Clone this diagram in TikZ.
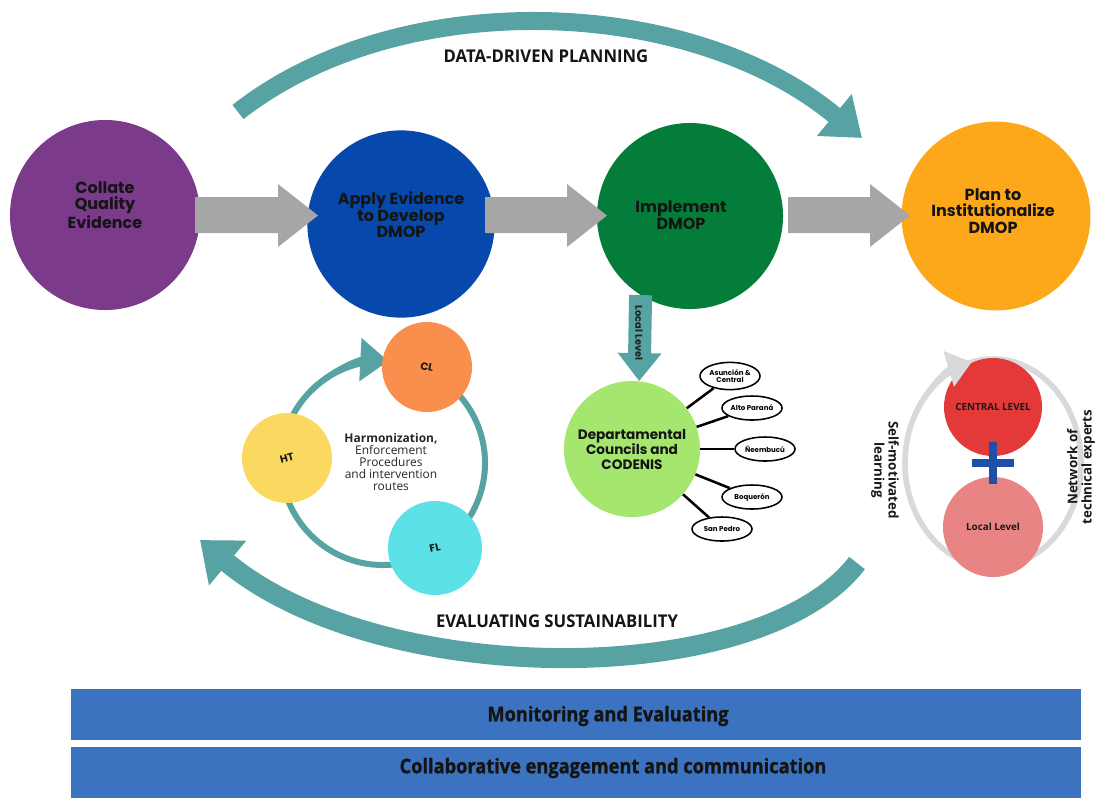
\documentclass[tikz,border=0pt]{standalone}
\usepackage{fontspec}
\setmainfont{Open Sans}
\newfontfamily\popfont{Poppins}
\newfontfamily\condfont{Open Sans}[FakeStretch=0.95]
\newfontfamily\barfont{Open Sans}[FakeStretch=0.9,BoldFeatures={FakeBold=1.2}]
\usetikzlibrary{arrows.meta,shapes.geometric}

\definecolor{purp}{RGB}{124,58,139}
\definecolor{dblue}{RGB}{6,72,171}
\definecolor{dgreen}{RGB}{5,125,58}
\definecolor{orng}{RGB}{252,168,26}
\definecolor{arrgray}{RGB}{166,166,166}
\definecolor{tealarc}{RGB}{87,163,164}
\definecolor{clorange}{RGB}{250,142,76}
\definecolor{htyellow}{RGB}{251,217,96}
\definecolor{flcyan}{RGB}{92,225,230}
\definecolor{lgreen}{RGB}{165,230,110}
\definecolor{redc}{RGB}{227,57,57}
\definecolor{pinkc}{RGB}{232,132,132}
\definecolor{plusblue}{RGB}{30,80,170}
\definecolor{ringgray}{RGB}{217,217,217}
\definecolor{barblue}{RGB}{59,115,193}

\begin{document}
\begin{tikzpicture}[x=0.025cm,y=-0.025cm,
	stage/.style={circle,inner sep=0pt,minimum size=#1},
	title/.style={align=center,text=black!92,font=\popfont\bfseries\fontsize{11.4}{11.8}\selectfont},
	dot/.style={circle,inner sep=0pt,minimum size=#1,text=black!90,font=\popfont\bfseries\fontsize{7.5}{8}\selectfont},
	place/.style={ellipse,draw,line width=1.1pt,fill=white,inner sep=0pt,minimum width=1.5cm,minimum height=0.6cm,align=center,font=\popfont\bfseries\fontsize{5}{5.4}\selectfont},
	side/.style={align=center,text=black!90,font=\bfseries\fontsize{9.5}{10}\selectfont},
	bigarc/.style={tealarc,line width=#1},
	arclabel/.style={text=black!92,font=\condfont\bfseries\fontsize{12.5}{12.5}\selectfont},
	bartext/.style={text=black!92,font=\barfont\bfseries\fontsize{14.4}{14.4}\selectfont}]
	\useasboundingbox (0,0) rectangle (1095,798);
	% main stages
	\node[stage=4.75cm,fill=purp] (col) at (105,215) {};
	\node[stage=4.68cm,fill=dblue] (app) at (401,224) {};
	\node[stage=4.65cm,fill=dgreen] (imp) at (690,216) {};
	\node[stage=4.72cm,fill=orng] (pla) at (996,216) {};
	\node[title] (colt) at (105,205) {Collate\\Quality\\Evidence};
	\node[title] (appt) at (401,215) {Apply Evidence\\to Develop\\DMOP};
	\node[title] (impt) at (681,215) {Implement\\DMOP};
	\node[title] (plat) at (993,211) {Plan to\\Institutionalize\\DMOP};
	% grey block arrows
	\foreach \a/\b in {195/278,485/567,788/870}
	\fill[arrgray] (\a,197) -- (\b,197) -- (\b,184) -- (\b+40,215.5) -- (\b,247) -- (\b,233) -- (\a,233) -- cycle;
	% big arcs
	\draw[bigarc=0.45cm,-{Triangle[length=0.9cm,width=1.3cm]}] (238,112) .. controls (400,-15) and (690,-5) .. (862,138);
	\node[arclabel] (ddp) at (546,56) {DATA-DRIVEN PLANNING};
	\draw[bigarc=0.5cm,-{Triangle[length=0.9cm,width=1.4cm]}] (857,563) .. controls (760,690) and (380,690) .. (200,540);
	\node[arclabel] (evs) at (557,621) {EVALUATING SUSTAINABILITY};
	% harmonization cycle
	\coordinate (hub) at (383,463);
	\draw[tealarc,line width=0.15cm] (hub) circle[radius=2.55cm];
	\draw[tealarc,line width=0.15cm,-{Triangle[length=0.7cm,width=1.05cm]}] (hub) ++(135:2.55cm) arc[start angle=135,end angle=87,radius=2.55cm];
	\node[dot=2.25cm,fill=clorange,rotate=-12] (cl) at (427,367) {CL};
	\node[dot=2.25cm,fill=htyellow,rotate=15] (ht) at (287,458) {HT};
	\node[dot=2.35cm,fill=flcyan,rotate=12] (fl) at (435,548) {FL};
	\node[align=center,text=black!85,font=\fontsize{8.5}{8.7}\selectfont] (harm) at (391,462) {\textbf{Harmonization,}\\Enforcement\\Procedures\\and intervention\\routes};
	% departmental level
	\node[stage=3.4cm,fill=lgreen,title,font=\popfont\bfseries\fontsize{9.7}{10}\selectfont] (dep) at (632,449) {Departamental\\Councils and\\CODENIS};
	\draw[tealarc,line width=0.575cm,-{Triangle[length=0.7cm,width=1.05cm]}] (imp.238) -- (dep.84);
	\node[rotate=-90,text=black!88,font=\popfont\bfseries\fontsize{7}{7}\selectfont] (loc) at (639,333) {Local Level};
	\node[place,minimum height=0.68cm] (e1) at (730,376) {Asunción \&\\Central};
	\node[place] (e2) at (752,408) {Alto Paraná};
	\node[place] (e3) at (765,449) {Ñeembucú};
	\node[place] (e4) at (752,497) {Boquerón};
	\node[place] (e5) at (722,529) {San Pedro};
	\foreach \e in {e1,e2,e3,e4,e5}
	\draw[line width=1.8pt] (dep) -- (\e);
	% central + local
	\coordinate (net) at (993,463);
	\draw[ringgray,line width=0.14cm] (net) ellipse[x radius=2.2cm,y radius=2.6cm];
	\node[stage=2.45cm,fill=redc,text=black!90,font=\bfseries\fontsize{7}{7}\selectfont] (cen) at (993,407) {CENTRAL LEVEL};
	\node[stage=2.5cm,fill=pinkc,text=black!90,font=\bfseries\fontsize{7}{7}\selectfont] (lcl) at (993,527) {Local Level};
	\draw[ringgray,line width=0.14cm,-{Triangle[length=0.6cm,width=0.9cm]}] (net) ++(150:2.2cm and 2.6cm) arc[start angle=150,end angle=104,x radius=2.2cm,y radius=2.6cm];
	\draw[plusblue,line width=0.22cm] ([xshift=-0.53cm]net) -- ([xshift=0.53cm]net);
	\draw[plusblue,line width=0.22cm] ([yshift=-0.52cm]net) -- ([yshift=0.52cm]net);
	\node[side,rotate=-90] (sml) at (885,470) {Self-motivated\\learning};
	\node[side,rotate=90] (nte) at (1081,467) {Network of\\technical experts};
	% bottom bars
	\fill[barblue] (71,689) rectangle (1081,740);
	\fill[barblue] (71,747) rectangle (1081,798);
	\node[bartext] (mon) at (608,716) {Monitoring and Evaluating};
	\node[bartext] (cec) at (613,768) {Collaborative engagement and communication};
\end{tikzpicture}
\end{document}
